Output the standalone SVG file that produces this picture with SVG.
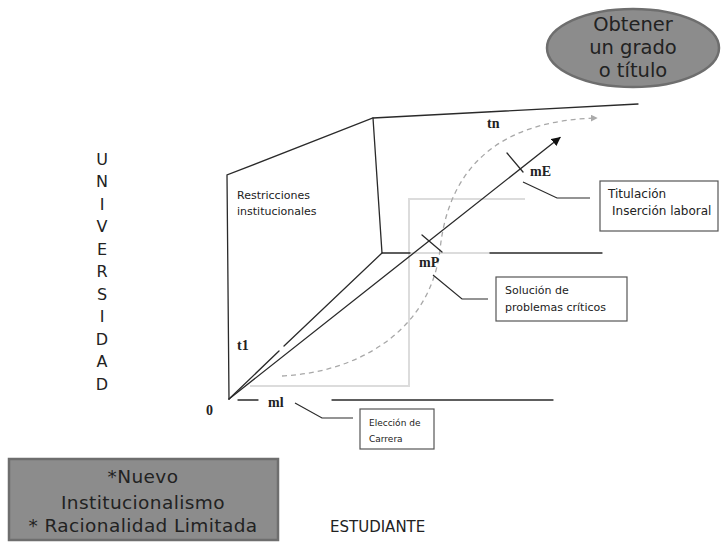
<svg xmlns="http://www.w3.org/2000/svg" width="722" height="542" viewBox="0 0 722 542">
<style>
.ax{stroke:#2a2a2a;stroke-width:1.3;fill:none;stroke-linecap:round}
.lt{stroke:#dcdcdc;stroke-width:2;fill:none}
.dash{stroke:#a8a8a8;stroke-width:1.3;fill:none;stroke-dasharray:5,4}
.lead{stroke:#2a2a2a;stroke-width:1.2;fill:none}
.box{fill:#fff;stroke:#555;stroke-width:1.2}
.s{font-family:"DejaVu Sans","Open Sans",sans-serif;fill:#222}
.m{font-family:"Liberation Serif","DejaVu Serif",serif;font-weight:bold;fill:#222;font-size:14px}
</style>
<defs>
<marker id="ah" viewBox="0 0 10 10" refX="9" refY="5" markerWidth="9" markerHeight="9" markerUnits="userSpaceOnUse" orient="auto"><path d="M0,0 L10,5 L0,10 z" fill="#111"/></marker>
<marker id="ahg" viewBox="0 0 10 10" refX="9" refY="5" markerWidth="7" markerHeight="7" markerUnits="userSpaceOnUse" orient="auto"><path d="M0,0 L10,5 L0,10 z" fill="#aaa"/></marker>
</defs>
<g id="connectors">
<path class="lt" d="M250,386 H409 V199 H525"/>
<line class="lt" x1="410" y1="253" x2="490" y2="253"/>
<path class="ax" d="M229,399 L227,175 L373,118 L638,104"/>
<path class="ax" d="M373,118 L382,253 L410,253"/>
<line class="ax" x1="490" y1="253" x2="602" y2="253"/>
<path class="ax" d="M229,399 L279,351 M284,346 L382,253"/>
<line class="ax" x1="229" y1="399" x2="560" y2="137.5" marker-end="url(#ah)"/>
<line class="ax" x1="238" y1="400" x2="258" y2="400"/>
<line class="ax" x1="332" y1="400" x2="553" y2="400"/>
<path class="dash" d="M282,376 C360,372 430,330 440,250 C450,150 520,120 597,118" marker-end="url(#ahg)"/>
<line class="ax" x1="422" y1="235" x2="442" y2="252"/>
<line class="ax" x1="507" y1="153" x2="523" y2="172"/>
<path class="lead" d="M523,182 L557,198 H590"/>
<path class="lead" d="M433,275 L462,299 H488"/>
<path class="lead" d="M295,403 L322,418 H353"/>
</g>
<g id="goal">
<ellipse cx="633" cy="48" rx="86" ry="39" fill="#8c8c8c" stroke="#6e6e6e" stroke-width="2.5"/>
<text class="s" font-size="19.5" text-anchor="middle"><tspan x="633" y="31">Obtener</tspan><tspan x="633" y="54">un grado</tspan><tspan x="633" y="77">o título</tspan></text>
</g>
<g id="theory">
<rect x="9" y="459" width="269" height="81" fill="#8c8c8c" stroke="#6e6e6e" stroke-width="2.5"/>
<text class="s" font-size="18.5" letter-spacing="0.4" text-anchor="middle"><tspan x="143" y="483">*Nuevo</tspan><tspan x="143" y="509">Institucionalismo</tspan><tspan x="143" y="532">* Racionalidad Limitada</tspan></text>
</g>
<g id="universidad">
<text class="s" font-size="16" text-anchor="middle"><tspan x="102" y="165">U</tspan><tspan x="102" y="187">N</tspan><tspan x="102" y="210">I</tspan><tspan x="102" y="232">V</tspan><tspan x="102" y="255">E</tspan><tspan x="102" y="277">R</tspan><tspan x="102" y="300">S</tspan><tspan x="102" y="322">I</tspan><tspan x="102" y="345">D</tspan><tspan x="102" y="367">A</tspan><tspan x="102" y="390">D</tspan></text>
</g>
<g id="estudiante">
<text class="s" font-size="15" x="330" y="532">ESTUDIANTE</text>
</g>
<g id="restricciones">
<text class="s" font-size="11"><tspan x="237" y="199">Restricciones</tspan><tspan x="237" y="215">institucionales</tspan></text>
</g>
<g id="titulacion">
<rect class="box" x="600" y="181" width="118" height="50"/>
<text class="s" font-size="12"><tspan x="608" y="198">Titulación</tspan><tspan x="612" y="215">Inserción laboral</tspan></text>
</g>
<g id="solucion">
<rect class="box" x="496" y="277" width="131" height="44"/>
<text class="s" font-size="11"><tspan x="505" y="294">Solución de</tspan><tspan x="505" y="311">problemas críticos</tspan></text>
</g>
<g id="eleccion">
<rect class="box" x="360" y="409" width="74" height="40"/>
<text class="s" font-size="9"><tspan x="369" y="426">Elección de</tspan><tspan x="369" y="442">Carrera</tspan></text>
</g>
<g id="labels">
<text class="m" x="419" y="267">mP</text>
<text class="m" x="530" y="176">mE</text>
<text class="m" x="487" y="128">tn</text>
<text class="m" x="237" y="350">t1</text>
<text class="m" x="268" y="407">ml</text>
<text class="m" font-size="10" x="206" y="415">0</text>
</g>
</svg>
